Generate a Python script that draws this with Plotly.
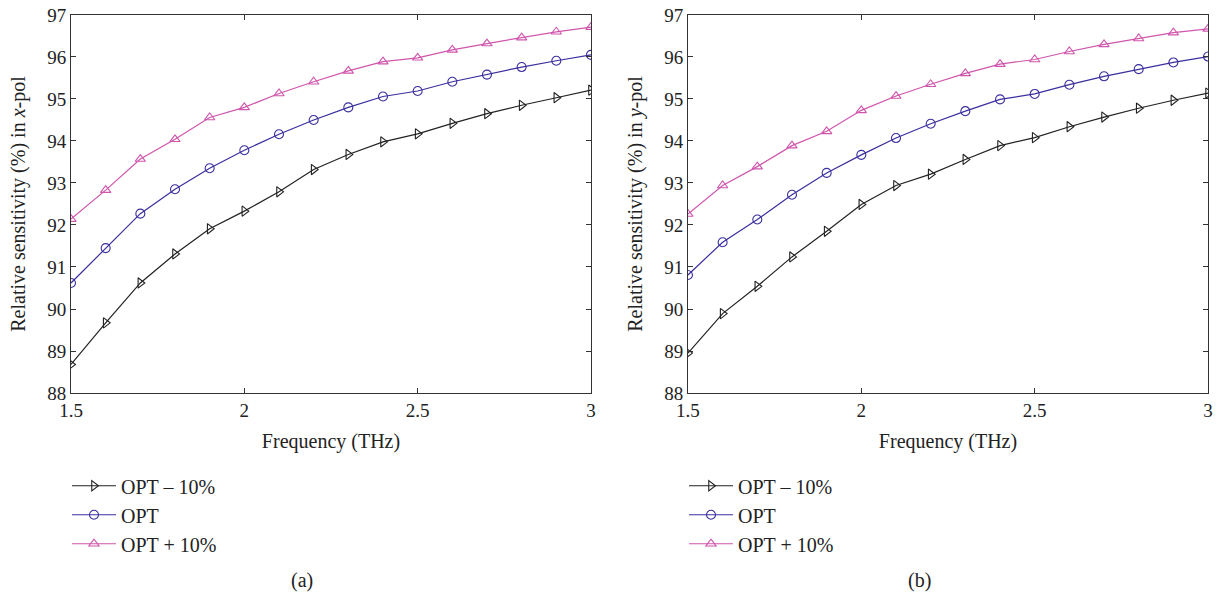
import plotly.graph_objects as go

freq = [1.5, 1.6, 1.7, 1.8, 1.9, 2.0, 2.1, 2.2, 2.3, 2.4, 2.5, 2.6, 2.7, 2.8, 2.9, 3.0]

# (a) x-pol
xpol_minus = [88.68, 89.67, 90.62, 91.31, 91.91, 92.33, 92.79, 93.32, 93.68, 93.98,
              94.17, 94.42, 94.65, 94.85, 95.03, 95.21]
xpol_opt = [90.62, 91.45, 92.27, 92.85, 93.35, 93.78, 94.16, 94.50, 94.80, 95.06,
            95.19, 95.41, 95.58, 95.76, 95.91, 96.05]
xpol_plus = [92.14, 92.83, 93.57, 94.04, 94.56, 94.80, 95.13, 95.41, 95.67, 95.89,
             95.98, 96.17, 96.32, 96.46, 96.60, 96.71]

# (b) y-pol
ypol_minus = [88.95, 89.89, 90.54, 91.24, 91.85, 92.49, 92.94, 93.21, 93.56, 93.89,
              94.08, 94.34, 94.57, 94.78, 94.97, 95.14]
ypol_opt = [90.81, 91.59, 92.13, 92.72, 93.24, 93.67, 94.07, 94.41, 94.71, 94.99,
            95.12, 95.34, 95.54, 95.71, 95.87, 96.01]
ypol_plus = [92.26, 92.94, 93.39, 93.89, 94.23, 94.73, 95.07, 95.35, 95.61, 95.83,
             95.94, 96.13, 96.30, 96.44, 96.58, 96.67]

series_names = ["OPT \u2013 10%", "OPT", "OPT + 10%"]
series_colors = ["#222222", "#3a2f9e", "#cf55ad"]
series_symbols = ["triangle-right-open", "circle-open", "triangle-up-open"]

x_ticks = [1.5, 2, 2.5, 3]
x_ticklabels = ["1.5", "2", "2.5", "3"]
y_ticks = list(range(88, 98))

FONT = "Liberation Serif"

fig = go.Figure()

panels = [
    ([xpol_minus, xpol_opt, xpol_plus], "x", "y", "legend"),
    ([ypol_minus, ypol_opt, ypol_plus], "x2", "y2", "legend2"),
]
for data, xa, ya, lg in panels:
    for vals, name, col, sym in zip(data, series_names, series_colors, series_symbols):
        fig.add_trace(go.Scatter(
            x=freq, y=vals, name=name, mode="lines+markers",
            line=dict(color=col, width=1.2),
            marker=dict(symbol=sym, size=9, color=col, line=dict(color=col, width=1.1)),
            xaxis=xa, yaxis=ya, legend=lg,
        ))

axis_common = dict(
    showline=True, linecolor="#333333", linewidth=1, mirror="ticks",
    ticks="inside", ticklen=5, tickcolor="#333333", showgrid=False, zeroline=False,
    automargin=False,
    tickfont=dict(family=FONT, size=19, color="#222222"),
)

title_font = dict(family=FONT, size=20, color="#222222")
legend_common = dict(
    xanchor="left", yanchor="top", itemwidth=44,
    font=dict(family=FONT, size=20, color="#222222"), bgcolor="rgba(0,0,0,0)",
    tracegroupgap=0,
)

fig.update_layout(
    width=1220, height=597,
    margin=dict(l=0, r=0, t=0, b=0),
    paper_bgcolor="white", plot_bgcolor="white",
    font=dict(family=FONT, size=19, color="#222222"),
    xaxis=dict(domain=[0.0582, 0.4844], range=[1.5, 3], tickvals=x_ticks,
               ticktext=x_ticklabels, anchor="y",
               title=dict(text="Frequency (THz)", font=title_font, standoff=14),
               **axis_common),
    yaxis=dict(domain=[0.3417, 0.9749], range=[88, 97], tickvals=y_ticks, anchor="x",
               title=dict(text="Relative sensitivity (%) in <i>x</i>-pol",
                          font=title_font, standoff=16),
               **axis_common),
    xaxis2=dict(domain=[0.5639, 0.9902], range=[1.5, 3], tickvals=x_ticks,
                ticktext=x_ticklabels, anchor="y2",
                title=dict(text="Frequency (THz)", font=title_font, standoff=14),
                **axis_common),
    yaxis2=dict(domain=[0.3417, 0.9749], range=[88, 97], tickvals=y_ticks, anchor="x2",
                title=dict(text="Relative sensitivity (%) in <i>y</i>-pol",
                           font=title_font, standoff=16),
                **axis_common),
    legend=dict(x=67 / 1220, y=0.219, **legend_common),
    legend2=dict(x=684 / 1220, y=0.219, **legend_common),
    annotations=[
        dict(text="(a)", x=302 / 1220, y=1 - 580 / 597, xref="paper", yref="paper",
             xanchor="center", yanchor="middle", showarrow=False,
             font=dict(family=FONT, size=20, color="#222222")),
        dict(text="(b)", x=919 / 1220, y=1 - 580 / 597, xref="paper", yref="paper",
             xanchor="center", yanchor="middle", showarrow=False,
             font=dict(family=FONT, size=20, color="#222222")),
    ],
)

fig.write_html("out.html")
